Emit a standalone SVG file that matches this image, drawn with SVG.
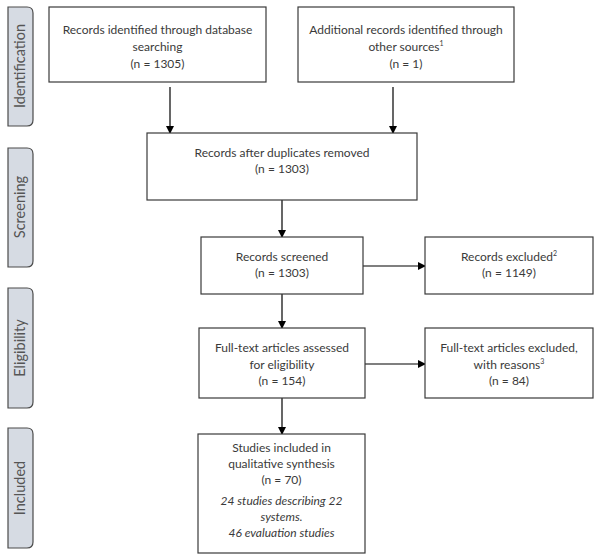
<svg xmlns="http://www.w3.org/2000/svg" width="603" height="559" viewBox="0 0 603 559">
<style>
.box{fill:#fff;stroke:#3a3a3a;stroke-width:1.2}
.tab{fill:#d6dbe3;stroke:#4a4a4a;stroke-width:1.2}
text{font-family:Lato,"Open Sans","Liberation Sans",sans-serif;font-size:12px;fill:#3a3a3a;text-anchor:middle}
.tt{font-size:14.5px;fill:#555}
.it{font-style:italic}
.sup{font-size:7px}
.con{stroke:#000;stroke-width:1.2;fill:none;marker-end:url(#ah)}
</style>
<defs>
<marker id="ah" markerWidth="8" markerHeight="8" refX="7" refY="4" orient="auto" markerUnits="userSpaceOnUse">
<path d="M0,0 L8,4 L0,8 Z" fill="#000"/>
</marker>
</defs>
<rect width="603" height="559" fill="#fff"/>
<g id="tab-identification">
<path class="tab" d="M8,7 H27 Q33,7 33,13 V120 Q33,126 27,126 H8 Z"/>
<text class="tt" transform="translate(20,66) rotate(-90)" dy="5">Identification</text>
</g>
<g id="tab-screening">
<path class="tab" d="M8,148 H27 Q33,148 33,154 V261 Q33,267 27,267 H8 Z"/>
<text class="tt" transform="translate(20,207) rotate(-90)" dy="5">Screening</text>
</g>
<g id="tab-eligibility">
<path class="tab" d="M8,288 H27 Q33,288 33,294 V402 Q33,408 27,408 H8 Z"/>
<text class="tt" transform="translate(20,348) rotate(-90)" dy="5">Eligibility</text>
</g>
<g id="tab-included">
<path class="tab" d="M8,428 H27 Q33,428 33,434 V542 Q33,548 27,548 H8 Z"/>
<text class="tt" transform="translate(20,488) rotate(-90)" dy="5">Included</text>
</g>
<g id="connectors">
<line class="con" x1="170" y1="87" x2="170" y2="133"/>
<line class="con" x1="393" y1="87" x2="393" y2="133"/>
<line class="con" x1="282" y1="200" x2="282" y2="237"/>
<line class="con" x1="363" y1="266" x2="425" y2="266"/>
<line class="con" x1="282" y1="294" x2="282" y2="328"/>
<line class="con" x1="365" y1="364" x2="425" y2="364"/>
<line class="con" x1="282" y1="398" x2="282" y2="434"/>
</g>
<g id="n-db">
<rect class="box" x="49" y="7" width="217" height="75"/>
<text x="157.5" y="34">Records identified through database</text>
<text x="157.5" y="51">searching</text>
<text x="157.5" y="68">(n = 1305)</text>
</g>
<g id="n-other">
<rect class="box" x="298" y="7" width="216" height="75"/>
<text x="406" y="34">Additional records identified through</text>
<text x="406" y="51">other sources<tspan class="sup" dy="-5">1</tspan></text>
<text x="406" y="68">(n = 1)</text>
</g>
<g id="n-dedup">
<rect class="box" x="147" y="133" width="270" height="67"/>
<text x="282" y="156.5">Records after duplicates removed</text>
<text x="282" y="172.5">(n = 1303)</text>
</g>
<g id="n-screened">
<rect class="box" x="201" y="237" width="162" height="57"/>
<text x="282" y="260.5">Records screened</text>
<text x="282" y="276.5">(n = 1303)</text>
</g>
<g id="n-excluded">
<rect class="box" x="425" y="237" width="168" height="57"/>
<text x="509" y="261">Records excluded<tspan class="sup" dy="-5">2</tspan></text>
<text x="509" y="276.5">(n = 1149)</text>
</g>
<g id="n-fulltext">
<rect class="box" x="199" y="328" width="166" height="70"/>
<text x="282" y="352">Full-text articles assessed</text>
<text x="282" y="368.5">for eligibility</text>
<text x="282" y="385">(n = 154)</text>
</g>
<g id="n-ftexcluded">
<rect class="box" x="425" y="328" width="168" height="70"/>
<text x="509" y="352">Full-text articles excluded,</text>
<text x="509" y="368.5">with reasons<tspan class="sup" dy="-5">3</tspan></text>
<text x="509" y="385">(n = 84)</text>
</g>
<g id="n-included">
<rect class="box" x="198" y="434" width="167" height="119"/>
<text x="281.5" y="452">Studies included in</text>
<text x="281.5" y="468">qualitative synthesis</text>
<text x="281.5" y="484">(n = 70)</text>
<text class="it" x="281.5" y="505">24 studies describing 22</text>
<text class="it" x="281.5" y="521">systems.</text>
<text class="it" x="281.5" y="537">46 evaluation studies</text>
</g>
</svg>
